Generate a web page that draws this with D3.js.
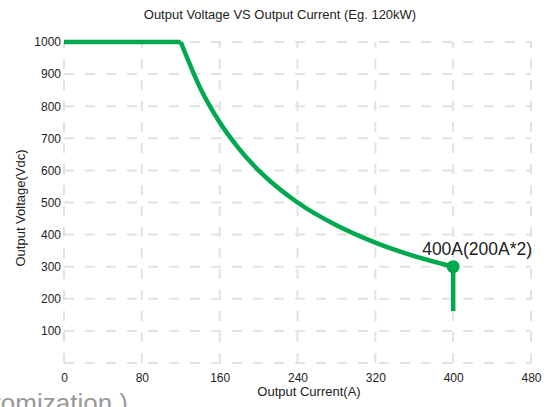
<!DOCTYPE html>
<html>
<head>
<meta charset="utf-8">
<script src="https://cdn.jsdelivr.net/npm/d3@7"></script>
<style>
  body { margin: 0; background: #fff; }
  svg { display: block; font-family: "Liberation Sans", Arial, sans-serif; }
</style>
</head>
<body>
<div id="chart"></div>
<script>
// values
const flatCurrent = [0, 120];
const flatVoltage = [1000, 1000];
const curveCurrent = [120, 140, 160, 180, 200, 240, 280, 320, 360, 400];
const curveVoltage = [1000, 857, 750, 667, 600, 500, 429, 375, 333, 300];
const dropCurrent = [400, 400];
const dropVoltage = [300, 162];
const xTicks = [0, 80, 160, 240, 320, 400, 480];
const yTicks = [100, 200, 300, 400, 500, 600, 700, 800, 900, 1000];
const gridY = [0, 100, 200, 300, 400, 500, 600, 700, 800, 900, 1000];
const marker = { current: 400, voltage: 300, label: "400A(200A*2)" };

const green = "#00a84f";
const width = 558, height = 407;
const margin = { top: 42, right: 27, bottom: 44, left: 64 };

const svg = d3.select("#chart")
    .append("svg")
    .attr("width", width)
    .attr("height", height);

const xScale = d3.scaleLinear()
    .domain([0, 480])
    .range([margin.left, width - margin.right]);

const yScale = d3.scaleLinear()
    .domain([0, 1000])
    .range([height - margin.bottom, margin.top]);

// dashed grid
svg.append("g")
    .selectAll("line")
    .data(xTicks)
    .enter()
    .append("line")
    .attr("x1", d => xScale(d))
    .attr("x2", d => xScale(d))
    .attr("y1", yScale(0))
    .attr("y2", yScale(1000))
    .attr("stroke", "#e2e2e2")
    .attr("stroke-width", 2)
    .attr("stroke-dasharray", "10,11");

svg.append("g")
    .selectAll("line")
    .data(gridY)
    .enter()
    .append("line")
    .attr("x1", xScale(0))
    .attr("x2", xScale(480))
    .attr("y1", d => yScale(d))
    .attr("y2", d => yScale(d))
    .attr("stroke", "#e2e2e2")
    .attr("stroke-width", 2)
    .attr("stroke-dasharray", "10,11");

// axes (labels only)
const xAxis = d3.axisBottom(xScale).tickValues(xTicks).tickSize(0).tickPadding(10).tickFormat(d3.format("d"));
const yAxis = d3.axisLeft(yScale).tickValues(yTicks).tickSize(0).tickPadding(3).tickFormat(d3.format("d"));

const gx = svg.append("g")
    .attr("transform", `translate(0,${yScale(0)})`)
    .call(xAxis);
const gy = svg.append("g")
    .attr("transform", `translate(${xScale(0)},0)`)
    .call(yAxis);

[gx, gy].forEach(g => {
    g.select(".domain").remove();
    g.selectAll("text")
        .attr("fill", "#222")
        .style("font-size", "12px")
        .style("font-family", "'Liberation Sans', Arial, sans-serif");
});

// title and axis titles
svg.append("text")
    .attr("x", 280)
    .attr("y", 19)
    .attr("text-anchor", "middle")
    .attr("fill", "#222")
    .style("font-size", "13px")
    .text("Output Voltage VS Output Current (Eg. 120kW)");

svg.append("text")
    .attr("x", 309)
    .attr("y", 396)
    .attr("text-anchor", "middle")
    .attr("fill", "#222")
    .style("font-size", "13px")
    .text("Output Current(A)");

svg.append("text")
    .attr("transform", "translate(25,208) rotate(-90)")
    .attr("text-anchor", "middle")
    .attr("fill", "#222")
    .style("font-size", "13px")
    .text("Output Voltage(Vdc)");

// curve: flat part, constant-power part, and the drop at 400A
const line = d3.line()
    .x(d => xScale(d[0]))
    .y(d => yScale(d[1]));

const segments = [
    { pts: flatCurrent.map((c, i) => [c, flatVoltage[i]]), curve: d3.curveLinear },
    { pts: curveCurrent.map((c, i) => [c, curveVoltage[i]]), curve: d3.curveMonotoneX },
    { pts: dropCurrent.map((c, i) => [c, dropVoltage[i]]), curve: d3.curveLinear }
];

svg.append("g")
    .selectAll("path")
    .data(segments)
    .enter()
    .append("path")
    .attr("d", d => line.curve(d.curve)(d.pts))
    .attr("fill", "none")
    .attr("stroke", green)
    .attr("stroke-width", 4.5)
    .attr("stroke-linejoin", "round");

svg.append("circle")
    .attr("cx", xScale(marker.current))
    .attr("cy", yScale(marker.voltage))
    .attr("r", 6.5)
    .attr("fill", green);

svg.append("text")
    .attr("x", xScale(marker.current) - 31)
    .attr("y", yScale(marker.voltage) - 12)
    .attr("fill", "#222")
    .style("font-size", "17.5px")
    .text(marker.label);

// clipped footnote at the bottom edge
svg.append("text")
    .attr("x", 128)
    .attr("y", 412)
    .attr("text-anchor", "end")
    .attr("fill", "#999")
    .style("font-size", "26px")
    .text("customization )");
</script>
</body>
</html>
